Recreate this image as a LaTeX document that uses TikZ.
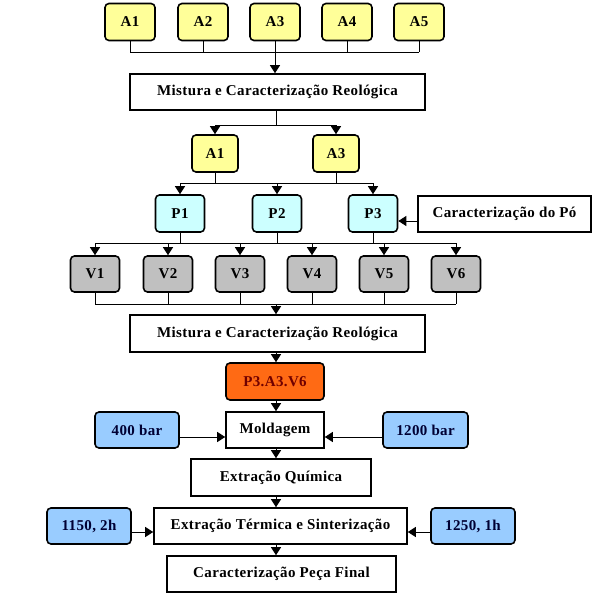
\documentclass[tikz,border=0pt]{standalone}
\usepackage{fontspec}
\setmainfont{Liberation Serif}[LetterSpace=2.5]
\usetikzlibrary{arrows.meta}
\definecolor{ayel}{HTML}{FFFF99}
\definecolor{pcyan}{HTML}{CCFFFF}
\definecolor{vgray}{HTML}{C0C0C0}
\definecolor{orng}{HTML}{FF6A14}
\definecolor{bblue}{HTML}{99CCFF}
\definecolor{darkred}{HTML}{700000}
\definecolor{navytxt}{HTML}{000033}
\begin{document}
\begin{tikzpicture}[x=1pt,y=-1pt,
  box/.style={draw, line width=1.6pt, inner sep=0pt, font=\fontsize{15}{17}\selectfont\bfseries},
  rbox/.style={box, rounded corners=4pt},
  abox/.style={rbox, fill=ayel, minimum width=50pt, minimum height=37pt},
  pbox/.style={rbox, fill=pcyan, minimum width=49pt, minimum height=37pt},
  vbox/.style={rbox, fill=vgray, minimum width=49pt, minimum height=36pt},
  bbox/.style={rbox, fill=bblue, text=navytxt, minimum width=84pt, minimum height=36pt},
  conn/.style={line width=1pt},
  arr/.style={line width=1pt, -{Triangle[width=10pt,length=8pt]}}]
\useasboundingbox (0,0) rectangle (614,613);
% bus levels
\coordinate (b1) at (0,52);
\coordinate (b2) at (0,125);
\coordinate (b3) at (0,183);
\coordinate (b4) at (0,243);
\coordinate (b5) at (0,304);
\coordinate (cx) at (276,0);
% top row
\node[abox] (A1) at (130,22) {A1};
\node[abox] (A2) at (203,22) {A2};
\node[abox] (A3) at (275,22) {A3};
\node[abox] (A4) at (347,22) {A4};
\node[abox] (A5) at (419,22) {A5};
\node[box, minimum width=295pt, minimum height=36pt] (M1) at (277.5,92) {Mistura e Caracterização Reológica};
\node[abox, minimum width=46pt] (A1b) at (215,153.5) {A1};
\node[abox, minimum width=46pt] (A3b) at (336,153.5) {A3};
\node[pbox] (P1) at (180,213.5) {P1};
\node[pbox] (P2) at (277,213.5) {P2};
\node[pbox] (P3) at (373,213.5) {P3};
\node[box, minimum width=173pt, minimum height=36pt] (CP) at (504.5,214) {Caracterização do Pó};
\node[vbox] (V1) at (95,274) {V1};
\node[vbox] (V2) at (168,274) {V2};
\node[vbox] (V3) at (240,274) {V3};
\node[vbox] (V4) at (312,274) {V4};
\node[vbox] (V5) at (384,274) {V5};
\node[vbox] (V6) at (456,274) {V6};
\node[box, minimum width=295pt, minimum height=37pt] (M2) at (277.5,333.5) {Mistura e Caracterização Reológica};
\node[rbox, fill=orng, text=darkred, minimum width=98pt, minimum height=37pt] (O) at (275,381.5) {P3.A3.V6};
\node[box, minimum width=98pt, minimum height=36pt] (Mold) at (275,430) {Moldagem};
\node[bbox] (B1) at (137,430) {400 bar};
\node[bbox, minimum width=85pt] (B2) at (425.5,430) {1200 bar};
\node[box, minimum width=180pt, minimum height=37pt] (EQ) at (281,477.5) {Extração Química};
\node[box, minimum width=253pt, minimum height=36pt] (ET) at (280.5,526) {Extração Térmica e Sinterização};
\node[bbox] (C1) at (89,526) {1150, 2h};
\node[bbox] (C2) at (473,526) {1250, 1h};
\node[box, minimum width=229pt, minimum height=36pt] (CPF) at (281.5,574) {Caracterização Peça Final};
% A row -> M1
\foreach \n in {A1,A2,A4,A5} \draw[conn] (\n.south) -- (\n.south |- b1);
\draw[conn] (A1.south |- b1) -- (A5.south |- b1);
\draw[arr] (A3.south) -- (A3.south |- M1.north);
% M1 -> A1b, A3b
\draw[conn] (M1.south -| cx) -- (cx |- b2);
\draw[conn] (A1b.north |- b2) -- (A3b.north |- b2);
\draw[arr] (A1b.north |- b2) -- (A1b.north);
\draw[arr] (A3b.north |- b2) -- (A3b.north);
% A1b, A3b -> P
\draw[conn] (A1b.south) -- (A1b.south |- b3);
\draw[conn] (A3b.south) -- (A3b.south |- b3);
\draw[conn] (P1.north |- b3) -- (P3.north |- b3);
\draw[arr] (P1.north |- b3) -- (P1.north);
\draw[arr] (P2.north |- b3) -- (P2.north);
\draw[arr] (P3.north |- b3) -- (P3.north);
\draw[arr] ([yshift=-7pt]CP.west) -- ([yshift=-7pt]CP.west -| P3.east);
% P -> V
\foreach \n in {P1,P2,P3} \draw[conn] (\n.south) -- (\n.south |- b4);
\draw[conn] (V1.north |- b4) -- (V6.north |- b4);
\foreach \n in {V1,V2,V3,V4,V5,V6} \draw[arr] (\n.north |- b4) -- (\n.north);
% V -> M2
\foreach \n in {V1,V2,V3,V4,V5,V6} \draw[conn] (\n.south) -- (\n.south |- b5);
\draw[conn] (V1.south |- b5) -- (V6.south |- b5);
\draw[arr] (cx |- b5) -- (M2.north -| cx);
% main chain
\draw[arr] (M2.south -| cx) -- (O.north -| cx);
\draw[arr] (O.south -| cx) -- (Mold.north -| cx);
\draw[arr] (Mold.south -| cx) -- (EQ.north -| cx);
\draw[arr] (EQ.south -| cx) -- (ET.north -| cx);
\draw[arr] (ET.south -| cx) -- (CPF.north -| cx);
% side inputs
\draw[arr] ([yshift=-7pt]B1.east) -- ([yshift=-7pt]B1.east -| Mold.west);
\draw[arr] ([yshift=-7pt]B2.west) -- ([yshift=-7pt]B2.west -| Mold.east);
\draw[arr] ([yshift=-6pt]C1.east) -- ([yshift=-6pt]C1.east -| ET.west);
\draw[arr] ([yshift=-6pt]C2.west) -- ([yshift=-6pt]C2.west -| ET.east);
\end{tikzpicture}
\end{document}
